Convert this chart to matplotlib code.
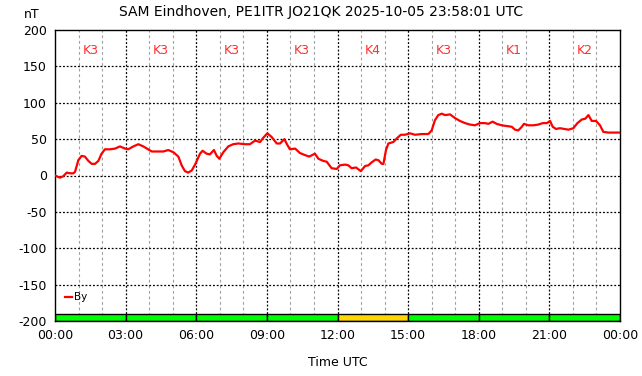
#!/usr/bin/env python3
# SAM magnetometer day plot, By component with K-index bar

import matplotlib
matplotlib.use("Agg")
import matplotlib.pyplot as plt

plt.rcParams["axes.unicode_minus"] = False

# hours since 00:00 UTC and By in nT
hours = [0.0, 0.21, 0.35, 0.5, 0.64, 0.78, 0.85, 0.99, 1.13, 1.27, 1.42, 1.56, 1.7,
         1.84, 1.98, 2.12, 2.34, 2.55, 2.76, 2.97, 3.11, 3.33, 3.54, 3.75, 3.96,
         4.11, 4.32, 4.6, 4.81, 5.03, 5.24, 5.38, 5.52, 5.66, 5.81, 5.95, 6.16,
         6.27, 6.44, 6.58, 6.75, 6.87, 6.98, 7.15, 7.36, 7.57, 7.79, 8.07, 8.28,
         8.5, 8.71, 8.85, 9.02, 9.2, 9.42, 9.56, 9.74, 9.87, 9.98, 10.2, 10.4,
         10.62, 10.8, 11.04, 11.19, 11.4, 11.54, 11.75, 11.97, 12.1, 12.32, 12.46,
         12.6, 12.79, 12.99, 13.17, 13.31, 13.45, 13.62, 13.74, 13.88, 13.95,
         14.06, 14.16, 14.37, 14.52, 14.69, 14.87, 15.08, 15.29, 15.58, 15.86,
         16.0, 16.14, 16.28, 16.43, 16.57, 16.78, 16.99, 17.2, 17.42, 17.63,
         17.84, 18.05, 18.27, 18.41, 18.59, 18.76, 18.98, 19.19, 19.4, 19.54,
         19.68, 19.83, 19.92, 20.11, 20.32, 20.53, 20.72, 20.89, 21.03, 21.14,
         21.28, 21.45, 21.64, 21.81, 22.02, 22.19, 22.38, 22.52, 22.66, 22.8,
         22.98, 23.15, 23.29, 23.5, 23.97]
by_nt = [0, -3, -1, 4, 3, 3, 5, 21, 27, 26, 20, 16, 16,
         20, 30, 36, 36, 37, 40, 37, 36, 40, 43, 40, 36,
         33, 33, 33, 35, 32, 26, 14, 6, 4, 7, 15, 30,
         34, 30, 29, 35, 27, 23, 32, 40, 43, 44, 43, 43,
         48, 46, 52, 58, 53, 44, 44, 50, 42, 36, 37, 31,
         28, 26, 30, 23, 20, 19, 10, 9, 14, 15, 14,
         10, 11, 6, 13, 14, 18, 22, 21, 16, 16,
         35, 44, 46, 51, 56, 56, 58, 56, 57, 57,
         62, 76, 83, 85, 83, 84, 79, 75, 72, 70,
         69, 72, 72, 71, 74, 71, 69, 68, 67, 63,
         62, 67, 71, 69, 69, 70, 72, 72, 75, 67,
         64, 65, 64, 63, 65, 72, 77, 78, 83, 75,
         75, 69, 60, 59, 59]

# K index per 3-hour block
k_start = [0, 3, 6, 9, 12, 15, 18, 21]
k_index = [3, 3, 3, 3, 4, 3, 1, 2]

title = "SAM Eindhoven, PE1ITR JO21QK 2025-10-05 23:58:01 UTC"


def k_color(k):
    if k < 4:
        return "#00ff00"
    if k == 4:
        return "#ffd700"
    return "#ff0000"


fig = plt.figure(figsize=(6.42, 3.76), dpi=100)
ax = fig.add_axes([55 / 642, 55 / 376, 565 / 642, 291 / 376])

ax.set_xlim(0, 24)
ax.set_ylim(-200, 200)

# grid: grey dashed every hour, black dotted every 3 h and every 50 nT
for h in range(1, 24):
    if h % 3:
        ax.axvline(h, color="#a0a0a0", lw=0.8, ls=(0, (2.5, 2.5)), zorder=1)
    else:
        ax.axvline(h, color="black", lw=0.9, ls=(0, (1.5, 1.5)), zorder=1)
for v in range(-150, 200, 50):
    ax.axhline(v, color="black", lw=0.9, ls=(0, (1.5, 1.5)), zorder=1)

# K index bar at the bottom
ax.bar(k_start, 10, width=3, bottom=-200, align="edge",
       color=[k_color(k) for k in k_index], edgecolor="black", lw=1.0, zorder=2)
for s, k in zip(k_start, k_index):
    ax.text(s + 1.5, 172, "K%d" % k, color="#ff3030", fontsize=9,
            ha="center", va="center", zorder=3)

ax.plot(hours, by_nt, color="red", lw=1.6, label="By", zorder=4)

ax.set_xticks(range(0, 25, 3))
ax.set_xticklabels(["%02d:00" % (h % 24) for h in range(0, 25, 3)])
ax.set_yticks(range(-200, 201, 50))
ax.tick_params(length=0, labelsize=9, pad=6)
for s in ax.spines.values():
    s.set_linewidth(1.0)

ax.set_xlabel("Time UTC", fontsize=9, labelpad=10)
fig.text(32 / 642, 1 - 15 / 376, "nT", fontsize=9, ha="center", va="center")
fig.text(0.5, 1 - 12 / 376, title, fontsize=10, ha="center", va="center")

ax.legend(loc="lower left", bbox_to_anchor=(0.01, 0.05), frameon=False,
          handlelength=0.7, handletextpad=0.2, fontsize=7.5, borderaxespad=0)

fig.savefig("out.png", dpi=100)
